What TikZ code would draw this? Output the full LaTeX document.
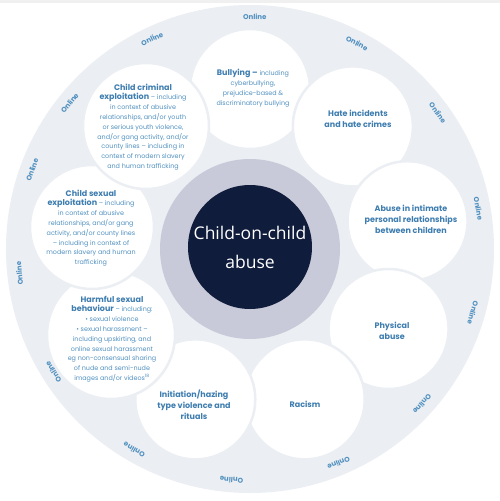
\documentclass[tikz,border=0pt]{standalone}
\usepackage{fontspec}
\setmainfont{Poppins}
\newfontfamily\centerfont{Open Sans}
\definecolor{bandgrey}{HTML}{EBEEF2}
\definecolor{ringc}{HTML}{C9CAD9}
\definecolor{navy}{HTML}{101C3B}
\definecolor{txtblue}{HTML}{5090C0}
\definecolor{headblue}{HTML}{3E7DB0}
\newcommand{\hd}[1]{{\fontsize{8}{9.8}\selectfont\bfseries\color{headblue}#1}}
\begin{document}
\begin{tikzpicture}[x=1pt,y=1pt,
  circ/.style={circle, fill=white, draw=bandgrey, line width=2.5pt, minimum size=120pt, inner sep=0pt},
  lbl/.style={text=txtblue, align=center, inner sep=0pt, font=\fontsize{6.4}{9.8}\selectfont},
  mid/.style={text=headblue, align=center, inner sep=0pt, font=\fontsize{8}{11}\selectfont\bfseries},
  onl/.style={text=txtblue, inner sep=0pt, font=\fontsize{7}{8}\selectfont\bfseries}]
\useasboundingbox (-250,-252) rectangle (250,249);
\fill[white] (-250,-252) rectangle (250,249);
\fill[black!6] (-250,246) rectangle (250,249);
\node[circle, fill=bandgrey, minimum size=488pt, inner sep=0pt] (outer) at (0,0) {};
\foreach \a/\n in {90/bul,50/hate,10/intim,-30/phys,-70/rac,-110/init}
  \node[circ] (\n) at (\a:160) {};
\node[circ, minimum size=128pt] (hsb) at (-139,-86) {};
\node[circ, minimum size=124pt] (cse) at (-158,22) {};
\node[circ, minimum size=126pt] (cce) at (-104,123) {};
\node[circle, fill=ringc, minimum size=180pt, inner sep=0pt] (ring) at (0,0) {};
\node[circle, fill=navy, minimum size=124pt, inner sep=0pt, text=white, align=center,
  font=\centerfont\fontsize{17.5}{29}\selectfont] (core) at (0,2) {Child-on-child\\abuse};
\foreach \a [count=\i] in {88.8,62.5,36,10,-16,-42,-67.5,-94.6,-120,-148,-174,160,141,115}
  \node[onl, rotate=\a-90] (onl\i) at (\a:232) {Online};
% texts
\node[lbl] (tbul) at (3,161) {\hd{Bullying –} including\\cyberbullying,\\prejudice-based \&\\discriminatory bullying};
\node[mid] (thate) at (108,130) {Hate incidents\\and hate crimes};
\node[mid] (tintim) at (161,30) {Abuse in intimate\\personal relationships\\between children};
\node[mid] (tphys) at (142,-82) {Physical\\abuse};
\node[mid] (trac) at (55,-155) {Racism};
\node[mid] (tinit) at (-56,-156) {Initiation/hazing\\type violence and\\rituals};
\node[lbl] (thsb) at (-138,-90) {\hd{Harmful sexual}\\\hd{behaviour} – including:\\• sexual violence\\• sexual harassment –\\including upskirting, and\\online sexual harassment\\eg non-consensual sharing\\of nude and semi-nude\\images and/or videos\textsuperscript{18}};
\node[lbl] (tcse) at (-159,21) {\hd{Child sexual}\\\hd{exploitation} – including\\in context of abusive\\relationships, and/or gang\\activity, and/or county lines\\– including in context of\\modern slavery and human\\trafficking};
\node[lbl] (tcce) at (-107,122) {\hd{Child criminal}\\\hd{exploitation} – including\\in context of abusive\\relationships, and/or youth\\or serious youth violence,\\and/or gang activity, and/or\\county lines – including in\\context of modern slavery\\and human trafficking};
\end{tikzpicture}
\end{document}
